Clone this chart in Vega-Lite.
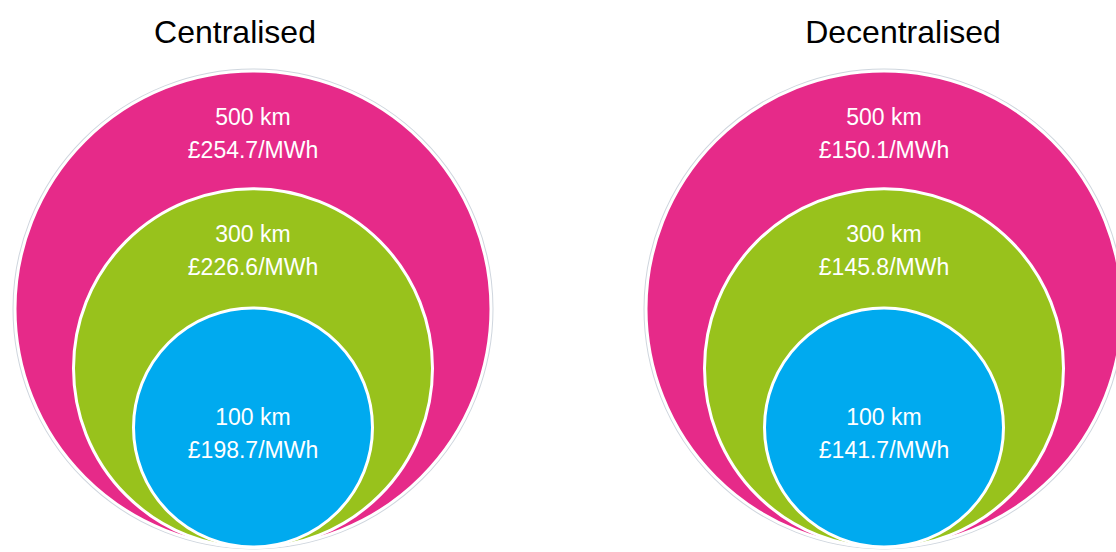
{
  "$schema": "https://vega.github.io/schema/vega-lite/v6.json",
  "padding": {"top": 17, "left": 0, "right": 0, "bottom": 0},
  "background": "white",
  "bounds": "flush",
  "data": {"values": [
    {"scenario": "Centralised", "km": 500, "distance": "500 km", "cost": 254.7},
    {"scenario": "Centralised", "km": 300, "distance": "300 km", "cost": 226.6},
    {"scenario": "Centralised", "km": 100, "distance": "100 km", "cost": 198.7},
    {"scenario": "Decentralised", "km": 500, "distance": "500 km", "cost": 150.1},
    {"scenario": "Decentralised", "km": 300, "distance": "300 km", "cost": 145.8},
    {"scenario": "Decentralised", "km": 100, "distance": "100 km", "cost": 141.7}
  ]},
  "spacing": 146,
  "hconcat": [
    {
      "width": 506, "height": 492,
      "title": {"text": "Centralised", "dx": -18},
      "transform": [{"filter": "datum.scenario == 'Centralised'"}],
      "resolve": {"scale": {"y": "independent"}},
      "layer": [
        {
          "transform": [{"filter": "datum.km == 500"}],
          "mark": {"type": "circle", "stroke": "#cfd6de", "strokeWidth": 5, "opacity": 1},
          "encoding": {
            "y": {"field": "km", "type": "quantitative", "axis": null, "scale": {"domain": [100, 500], "range": [369.5, 251], "zero": false, "nice": false}},
            "size": {"field": "km", "type": "quantitative", "legend": null, "scale": {"type": "pow", "exponent": 1.433, "domain": [100, 500], "range": [57121, 226576], "zero": false, "nice": false}},
            "color": {"field": "km", "type": "nominal", "legend": null, "scale": {"domain": [500, 300, 100], "range": ["#e62a89", "#98c21c", "#00aaef"]}}
          }
        },
        {
          "mark": {"type": "circle", "stroke": "#ffffff", "strokeWidth": 3, "opacity": 1},
          "encoding": {
            "y": {"field": "km", "type": "quantitative", "axis": null, "scale": {"domain": [100, 500], "range": [369.5, 251], "zero": false, "nice": false}},
            "size": {"field": "km", "type": "quantitative", "legend": null, "scale": {"type": "pow", "exponent": 1.433, "domain": [100, 500], "range": [57121, 226576], "zero": false, "nice": false}},
            "color": {"field": "km", "type": "nominal", "legend": null, "scale": {"domain": [500, 300, 100], "range": ["#e62a89", "#98c21c", "#00aaef"]}}
          }
        },
        {
          "mark": {"type": "text", "align": "center", "baseline": "middle", "font": "Liberation Sans", "fontSize": 23, "color": "#ffffff"},
          "encoding": {
            "y": {"field": "km", "type": "quantitative", "axis": null, "scale": {"type": "pow", "exponent": 0.4, "domain": [100, 500], "range": [360, 60], "zero": false, "nice": false}},
            "text": {"field": "distance", "type": "nominal"}
          }
        },
        {
          "mark": {"type": "text", "align": "center", "baseline": "middle", "font": "Liberation Sans", "fontSize": 23, "color": "#ffffff", "dy": 33},
          "encoding": {
            "y": {"field": "km", "type": "quantitative", "axis": null, "scale": {"type": "pow", "exponent": 0.4, "domain": [100, 500], "range": [360, 60], "zero": false, "nice": false}},
            "text": {"field": "cost", "type": "quantitative", "format": "$.1f"}
          }
        }
      ]
    },
    {
      "width": 464, "height": 492,
      "title": {"text": "Decentralised", "dx": 19},
      "transform": [{"filter": "datum.scenario == 'Decentralised'"}],
      "resolve": {"scale": {"y": "independent"}},
      "layer": [
        {
          "transform": [{"filter": "datum.km == 500"}],
          "mark": {"type": "circle", "stroke": "#cfd6de", "strokeWidth": 5, "opacity": 1},
          "encoding": {
            "y": {"field": "km", "type": "quantitative", "axis": null, "scale": {"domain": [100, 500], "range": [369.5, 251], "zero": false, "nice": false}},
            "size": {"field": "km", "type": "quantitative", "legend": null, "scale": {"type": "pow", "exponent": 1.433, "domain": [100, 500], "range": [57121, 226576], "zero": false, "nice": false}},
            "color": {"field": "km", "type": "nominal", "legend": null, "scale": {"domain": [500, 300, 100], "range": ["#e62a89", "#98c21c", "#00aaef"]}}
          }
        },
        {
          "mark": {"type": "circle", "stroke": "#ffffff", "strokeWidth": 3, "opacity": 1},
          "encoding": {
            "y": {"field": "km", "type": "quantitative", "axis": null, "scale": {"domain": [100, 500], "range": [369.5, 251], "zero": false, "nice": false}},
            "size": {"field": "km", "type": "quantitative", "legend": null, "scale": {"type": "pow", "exponent": 1.433, "domain": [100, 500], "range": [57121, 226576], "zero": false, "nice": false}},
            "color": {"field": "km", "type": "nominal", "legend": null, "scale": {"domain": [500, 300, 100], "range": ["#e62a89", "#98c21c", "#00aaef"]}}
          }
        },
        {
          "mark": {"type": "text", "align": "center", "baseline": "middle", "font": "Liberation Sans", "fontSize": 23, "color": "#ffffff"},
          "encoding": {
            "y": {"field": "km", "type": "quantitative", "axis": null, "scale": {"type": "pow", "exponent": 0.4, "domain": [100, 500], "range": [360, 60], "zero": false, "nice": false}},
            "text": {"field": "distance", "type": "nominal"}
          }
        },
        {
          "mark": {"type": "text", "align": "center", "baseline": "middle", "font": "Liberation Sans", "fontSize": 23, "color": "#ffffff", "dy": 33},
          "encoding": {
            "y": {"field": "km", "type": "quantitative", "axis": null, "scale": {"type": "pow", "exponent": 0.4, "domain": [100, 500], "range": [360, 60], "zero": false, "nice": false}},
            "text": {"field": "cost", "type": "quantitative", "format": "$.1f"}
          }
        }
      ]
    }
  ],
  "config": {
    "view": {"stroke": null},
    "locale": {"number": {"decimal": ".", "thousands": ",", "grouping": [3], "currency": ["£", "/MWh"]}},
    "title": {"fontSize": 32, "font": "Liberation Sans", "fontWeight": "normal", "color": "#000000", "anchor": "middle", "offset": 8}
  }
}
